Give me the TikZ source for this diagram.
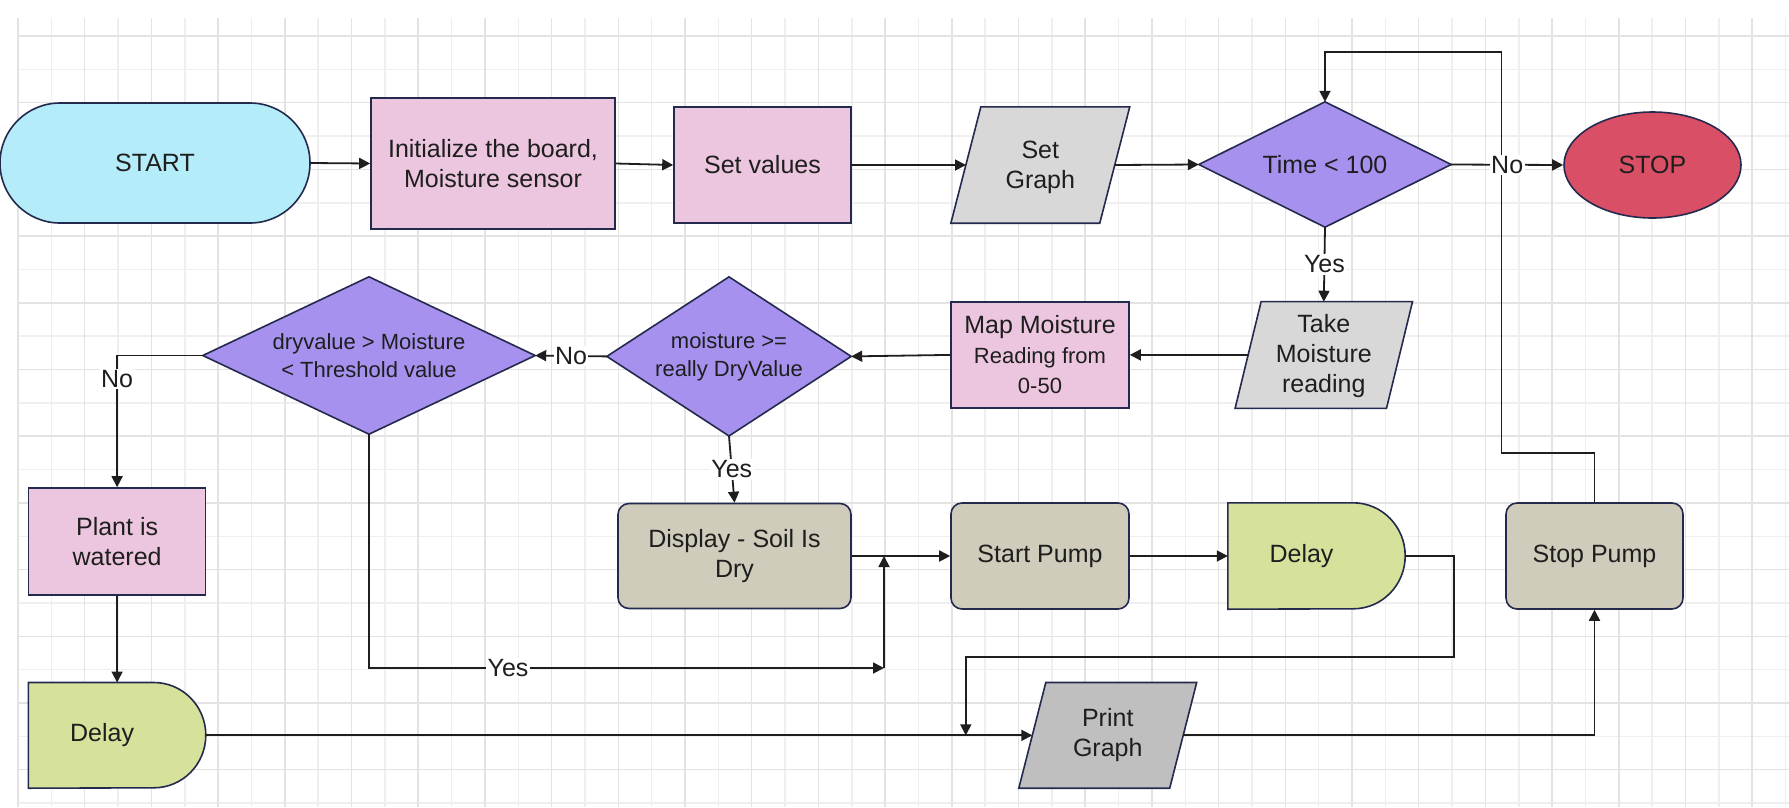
\documentclass[tikz,border=0pt]{standalone}
\usepackage{fontspec}
\setmainfont{Liberation Sans}
\usetikzlibrary{arrows.meta,shapes.geometric,calc}
\pgfdeclarelayer{grid}
\pgfdeclarelayer{bg}
\pgfsetlayers{grid,bg,main}
\definecolor{gridA}{HTML}{E3E3E3}
\definecolor{gridB}{HTML}{EFEFEF}
\definecolor{edge}{HTML}{232A4D}
\definecolor{ink}{HTML}{1E1E1E}
\definecolor{startc}{HTML}{B4ECFA}
\definecolor{pinkc}{HTML}{ECC6DE}
\definecolor{grayp}{HTML}{D8D8D8}
\definecolor{grayq}{HTML}{BFBFBF}
\definecolor{purp}{HTML}{A692EE}
\definecolor{stopc}{HTML}{D95066}
\definecolor{khaki}{HTML}{CFCCBC}
\definecolor{limec}{HTML}{D6E29B}
\begin{document}
\begin{tikzpicture}[x=1pt,y=-1pt,
  every node/.style={font=\fontsize{25}{30}\selectfont, text=ink, align=center, inner sep=0pt},
  terminal/.style={draw=edge, fill=startc, line width=1.6pt, rounded corners=60pt, minimum width=310pt, minimum height=120pt},
  procbox/.style={draw=edge, fill=pinkc, line width=1.6pt},
  roundbox/.style={draw=edge, fill=khaki, line width=1.6pt, rounded corners=11pt, minimum width=178pt, minimum height=106pt},
  stopnode/.style={ellipse, draw=edge, fill=stopc, line width=1.6pt},
  ghost/.style={draw=none, fill=none},
  shapeline/.style={draw=edge, line width=1.6pt},
  small/.style={font=\fontsize{22}{28}\selectfont},
  flow/.style={draw=ink, line width=1.8pt, -{Triangle[length=11pt,width=11pt]}},
  lab/.style={fill=white, inner sep=1.5pt},
  gridline/.style={line width=1.5pt}
]
\useasboundingbox (0,0) rectangle (1789,807);

% grid
\begin{pgfonlayer}{grid}
\fill[white] (0,0) rectangle (1789,807);
\foreach \k in {1,3,...,53} \draw[gridline, gridB] ({18+33.35*\k},18) -- ({18+33.35*\k},807);
\foreach \k in {1,3,...,23} \draw[gridline, gridB] (18,{36+33.35*\k}) -- (1789,{36+33.35*\k});
\foreach \k in {0,2,...,52} \draw[gridline, gridA] ({18+33.35*\k},18) -- ({18+33.35*\k},807);
\foreach \k in {0,2,...,22} \draw[gridline, gridA] (18,{36+33.35*\k}) -- (1789,{36+33.35*\k});
\end{pgfonlayer}

% nodes
\node[terminal] (start) at (155,163) {START};
\node[procbox, minimum width=244pt, minimum height=131pt] (init) at (493,163.5) {Initialize the board,\\Moisture sensor};
\node[procbox, minimum width=177pt, minimum height=116pt] (setv) at (762.5,165) {Set values};
\node[ghost, minimum width=148.5pt, minimum height=116pt] (setg) at (1040.3,167) {Set\\Graph};
\node[ghost, minimum width=252pt, minimum height=125pt] (time) at (1325,164.5) {Time < 100};
\node[stopnode, minimum width=177pt, minimum height=106pt] (stop) at (1652.5,165) {STOP};

\node[ghost, minimum width=151pt, minimum height=106.3pt] (take) at (1323.8,356) {Take\\Moisture\\reading};
\node[procbox, minimum width=178pt, minimum height=106.3pt] (map) at (1040,354.9) {Map Moisture\\{\fontsize{22}{28}\selectfont Reading from}\\{\fontsize{22}{28}\selectfont 0-50}};
\node[ghost, small, minimum width=244pt, minimum height=158.7pt] (moist) at (729,356.4) {moisture >=\\really DryValue};
\node[ghost, small, minimum width=332pt, minimum height=157pt] (dry) at (369,355.5) {dryvalue > Moisture\\< Threshold value};

\node[procbox, minimum width=177pt, minimum height=107pt] (plant) at (117.1,541.5) {Plant is\\watered};
\node[ghost, minimum width=177pt, minimum height=105.3pt] (delay1) at (117.1,735.35) {Delay\hspace*{30pt}};

\node[roundbox, minimum width=233pt, minimum height=105pt] (display) at (734.5,556) {Display - Soil Is\\Dry};
\node[roundbox] (startp) at (1040,556) {Start Pump};
\node[ghost, minimum width=177pt, minimum height=106pt] (delay2) at (1316.5,556) {Delay\hspace*{30pt}};
\node[roundbox, minimum width=177pt] (stopp) at (1594.5,556) {Stop Pump};

\node[ghost, minimum width=150.5pt, minimum height=105.3pt] (print) at (1107.75,735.35) {Print\\Graph};

% drawn shapes behind the text
\begin{pgfonlayer}{bg}
\draw[shapeline, fill=grayp] ($(setg.north west)+(15,-2)$) -- ($(setg.north east)+(15,-2)$) -- ($(setg.south east)-(15,2)$) -- ($(setg.south west)-(15,2)$) -- cycle;
\draw[shapeline, fill=grayp] ($(take.north west)+(13,-1)$) -- ($(take.north east)+(13,-1)$) -- ($(take.south east)-(13,1)$) -- ($(take.south west)-(13,1)$) -- cycle;
\draw[shapeline, fill=grayq] ($(print.north west)+(13.5,0)$) -- ($(print.north east)+(13.5,0)$) -- ($(print.south east)-(13.5,0)$) -- ($(print.south west)-(13.5,0)$) -- cycle;
\draw[shapeline, fill=purp] (time.north) -- (time.east) -- (time.south) -- (time.west) -- cycle;
\draw[shapeline, fill=purp] (moist.north) -- (moist.east) -- (moist.south) -- (moist.west) -- cycle;
\draw[shapeline, fill=purp] (dry.north) -- (dry.east) -- (dry.south) -- (dry.west) -- cycle;
\draw[shapeline, fill=limec] (delay1.north west) -- ($(delay1.north east)+(-52,0)$) arc[start angle=90, end angle=-90, x radius=52pt, y radius=52.65pt] -- (delay1.south west) -- cycle;
\draw[shapeline, fill=limec] (delay2.north west) -- ($(delay2.north east)+(-52,0)$) arc[start angle=90, end angle=-90, x radius=52pt, y radius=53pt] -- (delay2.south west) -- cycle;
\end{pgfonlayer}

% helper coordinates
\coordinate (c2) at (1501.4,453);
\coordinate (c3) at (1325,52);
\coordinate (j1) at (884,668);
\coordinate (j2) at (884,556);
\coordinate (c1) at (1454,657);
\coordinate (j3) at (965.8,735.35);
\coordinate (gE) at (1114.5,165);
\coordinate (gW) at (966,165);
\coordinate (tW) at (1248.3,355);
\coordinate (tN) at (1323.8,301.7);

% connectors
\draw[flow] (start.east) -- (init.west);
\draw[flow] (init.east) -- (setv.west);
\draw[flow] (setv.east) -- (gW);
\draw[flow] (gE) -- (time.west);
\draw[flow] (stopp.north) |- (c2) |- (c3) -- (time.north);
\draw[flow] (time.east) -- node[lab]{No} (stop.west);
\draw[flow] (time.south) -- node[lab]{Yes} (tN);
\draw[flow] (tW) -- (map.east);
\draw[flow] (map.west) -- (moist.east);
\draw[flow] (moist.west) -- node[lab]{No} (dry.east);
\draw[flow] (moist.south) -- node[lab]{Yes} (display.north);
\draw[flow] (dry.west) -| node[lab, pos=0.59]{No} (plant.north);
\draw[flow] (plant.south) -- (delay1.north);
\draw[flow] (dry.south) |- node[lab, pos=0.635]{Yes} (j1);
\draw[flow] (j1) -- (j2);
\draw[flow] (display.east) -- (startp.west);
\draw[flow] (startp.east) -- (delay2.west);
\draw[flow] (delay2.east) -| (c1) -| (j3);
\draw[flow] (delay1.east) -- (print.west);
\draw[flow] (print.east) -| (stopp.south);
\end{tikzpicture}
\end{document}
